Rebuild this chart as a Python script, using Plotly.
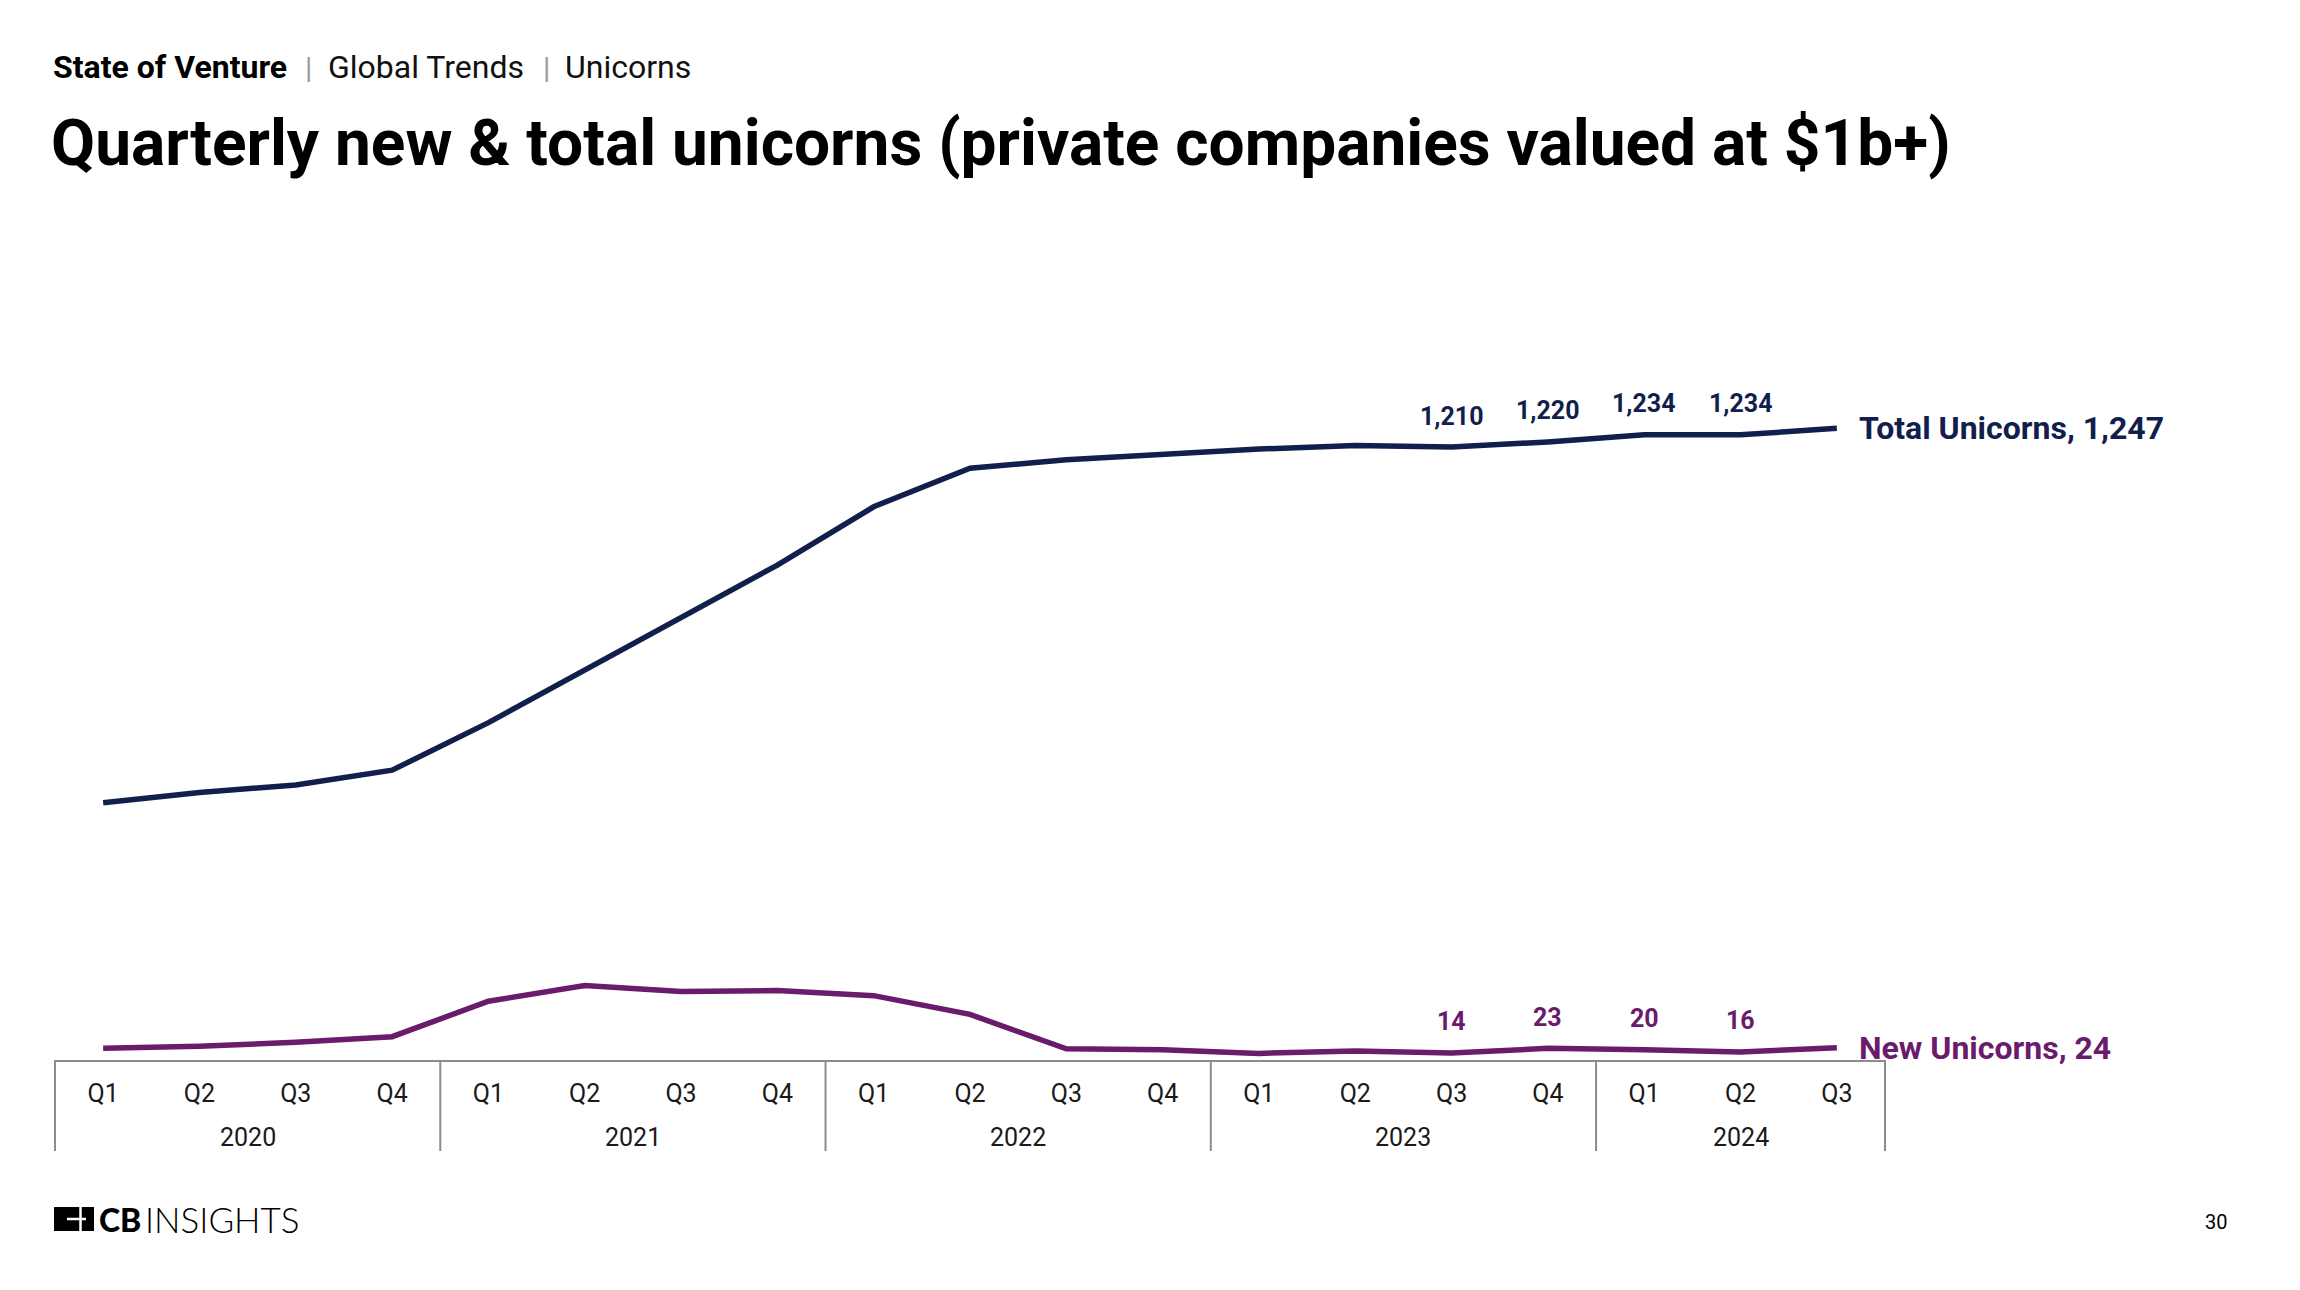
import plotly.graph_objects as go

# ---------------- data ----------------
quarter_labels = ["Q1", "Q2", "Q3", "Q4",
                  "Q1", "Q2", "Q3", "Q4",
                  "Q1", "Q2", "Q3", "Q4",
                  "Q1", "Q2", "Q3", "Q4",
                  "Q1", "Q2", "Q3"]
quarter_years = ["2020"] * 4 + ["2021"] * 4 + ["2022"] * 4 + ["2023"] * 4 + ["2024"] * 3
years = ["2020", "2021", "2022", "2023", "2024"]

total_unicorns = [508, 528, 543, 572, 666, 770, 874, 977, 1092, 1168,
                  1185, 1195, 1206, 1213, 1210, 1220, 1234, 1234, 1247]
new_unicorns = [23, 27, 35, 46, 116, 147, 135, 137, 127, 90,
                22, 20, 13, 18, 14, 23, 20, 16, 24]

labeled_idx = [14, 15, 16, 17]   # points with value labels (Q3'23 - Q2'24)

# ---------------- layout geometry (page pixels) ----------------
BODY = 8                      # default page body margin
W, H = 2300 - 2 * BODY, 1290 - 2 * BODY
PLOT_L, PLOT_R = 55, 1885     # page x of plot area
PLOT_T, PLOT_B = 200, 1060    # page y of plot area
ML = PLOT_L - BODY
MR = W - (PLOT_R - BODY)
MT = PLOT_T - BODY
MB = H - (PLOT_B - BODY)
PLOT_W = PLOT_R - PLOT_L
PLOT_H = PLOT_B - PLOT_T
PX_PER_UNIT = 0.5066

NAVY = "#121e4b"
PURPLE = "#6b1b6b"
GRID = "#8c8c8c"
FONT = "Roboto"

x = list(range(len(quarter_labels)))


def py(page_y):
    return (PLOT_B - page_y) / PLOT_H


def pxp(page_x):
    return (page_x - PLOT_L) / PLOT_W


fig = go.Figure()
fig.add_trace(go.Scatter(x=x, y=total_unicorns, mode="lines", name="Total Unicorns",
                         line=dict(color=NAVY, width=5.5), cliponaxis=False,
                         hoverinfo="skip"))
fig.add_trace(go.Scatter(x=x, y=new_unicorns, mode="lines", name="New Unicorns",
                         line=dict(color=PURPLE, width=5.5), cliponaxis=False,
                         hoverinfo="skip"))

annotations = []
for i in labeled_idx:
    annotations.append(dict(x=x[i], y=total_unicorns[i], xref="x", yref="y",
                            text=f"{total_unicorns[i]:,}", showarrow=False,
                            yanchor="middle", xanchor="center", yshift=31,
                            font=dict(family=FONT, size=25, color=NAVY, weight="bold")))
    annotations.append(dict(x=x[i], y=new_unicorns[i], xref="x", yref="y",
                            text=f"{new_unicorns[i]:,}", showarrow=False,
                            yanchor="middle", xanchor="center", yshift=31,
                            font=dict(family=FONT, size=25, color=PURPLE, weight="bold")))
annotations.append(dict(x=x[-1], y=total_unicorns[-1], xref="x", yref="y",
                        text=f"Total Unicorns, {total_unicorns[-1]:,}", showarrow=False,
                        xanchor="left", yanchor="middle", xshift=20,
                        font=dict(family=FONT, size=32, color=NAVY, weight="bold")))
annotations.append(dict(x=x[-1], y=new_unicorns[-1], xref="x", yref="y",
                        text=f"New Unicorns, {new_unicorns[-1]:,}", showarrow=False,
                        xanchor="left", yanchor="middle", xshift=20,
                        font=dict(family=FONT, size=32, color=PURPLE, weight="bold")))

shapes = []
boundaries = [-0.5]
for yr in years:
    idx = [i for i, q in enumerate(quarter_years) if q == yr]
    mid = (idx[0] + idx[-1]) / 2
    annotations.append(dict(x=mid, y=py(1137), xref="x", yref="paper", text=yr,
                            showarrow=False, xanchor="center", yanchor="middle",
                            font=dict(family=FONT, size=25, color="#1a1a1a")))
    boundaries.append(idx[-1] + 0.5)
for b in boundaries:
    xp = (b + 0.5) / len(x)
    shapes.append(dict(type="line", xref="paper", yref="paper", x0=xp, x1=xp,
                       y0=0, y1=py(1151), line=dict(color=GRID, width=2)))

# header
annotations += [
    dict(x=pxp(51), y=py(67), xref="paper", yref="paper", text="State of Venture",
         showarrow=False, xanchor="left", yanchor="middle",
         font=dict(family=FONT, size=32, color="#000000", weight="bold")),
    dict(x=pxp(308), y=py(67), xref="paper", yref="paper", text="|",
         showarrow=False, xanchor="center", yanchor="middle",
         font=dict(family=FONT, size=30, color="#9a9a9a")),
    dict(x=pxp(326), y=py(67), xref="paper", yref="paper", text="Global Trends",
         showarrow=False, xanchor="left", yanchor="middle",
         font=dict(family=FONT, size=32, color="#111111")),
    dict(x=pxp(546), y=py(67), xref="paper", yref="paper", text="|",
         showarrow=False, xanchor="center", yanchor="middle",
         font=dict(family=FONT, size=30, color="#9a9a9a")),
    dict(x=pxp(563), y=py(67), xref="paper", yref="paper", text="Unicorns",
         showarrow=False, xanchor="left", yanchor="middle",
         font=dict(family=FONT, size=32, color="#111111")),
    dict(x=pxp(49), y=py(143), xref="paper", yref="paper",
         text="Quarterly new & total unicorns (private companies valued at $1b+)",
         showarrow=False, xanchor="left", yanchor="middle",
         font=dict(family=FONT, size=64, color="#000000", weight="bold")),
]

# footer: logo + page number
shapes += [
    dict(type="rect", xref="paper", yref="paper", x0=pxp(54), x1=pxp(94),
         y0=py(1231), y1=py(1207), fillcolor="#000000", line=dict(width=0)),
    dict(type="line", xref="paper", yref="paper", x0=pxp(80.5), x1=pxp(80.5),
         y0=py(1231), y1=py(1207), line=dict(color="#ffffff", width=2.5)),
    dict(type="line", xref="paper", yref="paper", x0=pxp(67), x1=pxp(86),
         y0=py(1219), y1=py(1219), line=dict(color="#ffffff", width=2.5)),
]
annotations += [
    dict(x=pxp(97), y=py(1219), xref="paper", yref="paper", text="CB",
         showarrow=False, xanchor="left", yanchor="middle",
         font=dict(family="Lato", size=32, color="#000000", weight=900)),
    dict(x=pxp(143), y=py(1219), xref="paper", yref="paper", text="INSIGHTS",
         showarrow=False, xanchor="left", yanchor="middle",
         font=dict(family="Lato", size=35, color="#000000", weight=300)),
    dict(x=pxp(2216), y=py(1222), xref="paper", yref="paper", text="30",
         showarrow=False, xanchor="center", yanchor="middle",
         font=dict(family=FONT, size=20, color="#000000")),
]

fig.update_layout(
    width=W, height=H,
    margin=dict(l=ML, r=MR, t=MT, b=MB, pad=0),
    paper_bgcolor="white", plot_bgcolor="white",
    showlegend=False,
    annotations=annotations,
    shapes=shapes,
    xaxis=dict(range=[-0.5, len(x) - 0.5], tickmode="array", tickvals=x,
               ticktext=quarter_labels, showline=True, linecolor=GRID, linewidth=2,
               ticks="", showgrid=False, zeroline=False, ticklabelstandoff=10,
               tickfont=dict(family=FONT, size=25, color="#1a1a1a")),
    yaxis=dict(range=[0, PLOT_H / PX_PER_UNIT], visible=False, showgrid=False,
               zeroline=False),
)

fig.write_html("out.html")
